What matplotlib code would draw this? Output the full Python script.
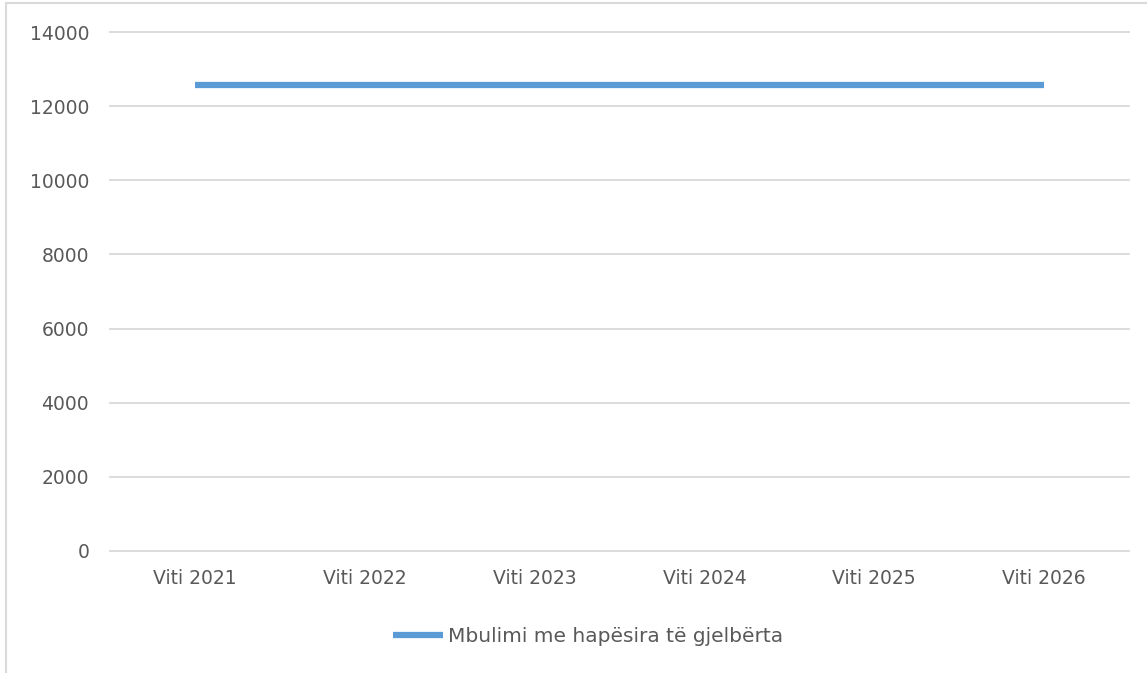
import numpy as np
import matplotlib.pyplot as plt
from matplotlib.patches import Rectangle

years = ['Viti 2021', 'Viti 2022', 'Viti 2023', 'Viti 2024', 'Viti 2025', 'Viti 2026']
values = [12570, 12570, 12570, 12570, 12570, 12570]
series_name = 'Mbulimi me hapësira të gjelbërta'

plt.rcParams['font.family'] = ['DejaVu Sans']
txt = '#595959'

fig = plt.figure(figsize=(11.47, 6.73), dpi=100)
ax = fig.add_axes([110 / 1147, 122 / 673, 1019 / 1147, 519 / 673])

x = np.arange(len(years))
ax.plot(x, values, color='#5b9bd5', linewidth=4.5, solid_capstyle='butt', label=series_name)

ax.set_xlim(-0.5, len(years) - 0.5)
ax.set_ylim(0, 14000)
ax.set_yticks(np.arange(0, 14001, 2000))
ax.set_xticks(x)
ax.set_xticklabels(years)
ax.grid(axis='y', color='#d9d9d9', linewidth=1.3)
for gl in ax.get_ygridlines():
    gl.set_clip_on(False)
ax.set_axisbelow(True)
for s in ax.spines.values():
    s.set_visible(False)
ax.tick_params(length=0, labelsize=13.5, labelcolor=txt)
ax.tick_params(axis='y', pad=15)
ax.tick_params(axis='x', pad=13)

leg = fig.legend(loc='center', bbox_to_anchor=(588 / 1147, 1 - 637 / 673), frameon=False,
                 fontsize=14.5, handlelength=2.5, handletextpad=0.25)
for t in leg.get_texts():
    t.set_color(txt)

fig.add_artist(Rectangle((6 / 1147, -0.01), 1.1, 1 - 3 / 673 + 0.01, transform=fig.transFigure,
                         fill=False, edgecolor='#d9d9d9', linewidth=1.5))

fig.savefig('out.png', dpi=100)
